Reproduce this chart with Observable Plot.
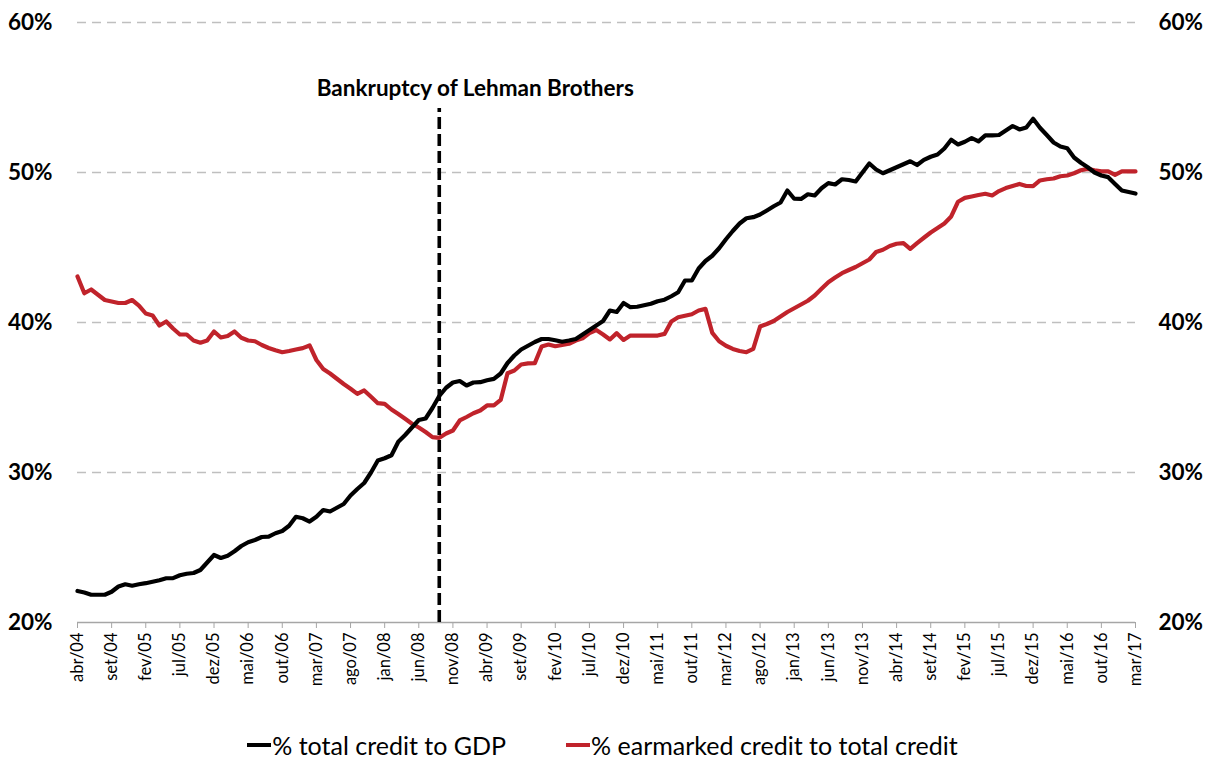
<!DOCTYPE html>
<html><head><meta charset="utf-8">
<script src="https://cdn.jsdelivr.net/npm/d3@7"></script>
<script src="https://cdn.jsdelivr.net/npm/@observablehq/plot@0.6"></script>
<style>
body{margin:0;background:#fff;font-family:Lato,"Open Sans",sans-serif;}
#chart svg{display:block;}
#legend{height:50px;display:flex;justify-content:center;align-items:center;gap:60px;font-size:25px;color:#000;}
#legend .item{display:flex;align-items:center;}
#legend .sw{display:inline-block;width:24px;height:4.5px;margin-right:1px;}
</style></head><body>
<div id="chart"></div>
<div id="legend"></div>
<script>
// Monthly series, abr/04 .. mar/17 (156 months)
const tickLabels = ["abr/04","set/04","fev/05","jul/05","dez/05","mai/06","out/06","mar/07","ago/07","jan/08","jun/08","nov/08","abr/09","set/09","fev/10","jul/10","dez/10","mai/11","out/11","mar/12","ago/12","jan/13","jun/13","nov/13","abr/14","set/14","fev/15","jul/15","dez/15","mai/16","out/16","mar/17"];
const seriesNames = ["% total credit to GDP","% earmarked credit to total credit"];
const seriesColors = ["#000000","#c0232b"];
const totalCreditToGDP = [
22.1,22.0,21.85,21.85,21.85,22.05,22.4,22.55,22.45,22.55,
22.62,22.72,22.82,22.95,22.96,23.15,23.25,23.3,23.5,24.0,
24.5,24.3,24.45,24.75,25.1,25.35,25.5,25.7,25.72,25.95,
26.1,26.45,27.05,26.95,26.73,27.05,27.5,27.4,27.65,27.9,
28.47,28.9,29.3,30.0,30.8,30.95,31.15,32.05,32.5,33.0,
33.5,33.6,34.3,35.1,35.65,36.0,36.1,35.8,36.0,36.02,
36.15,36.24,36.6,37.3,37.8,38.2,38.45,38.7,38.9,38.9,
38.82,38.72,38.8,38.9,39.2,39.5,39.8,40.1,40.8,40.7,
41.3,41.02,41.05,41.15,41.25,41.42,41.52,41.75,42.02,42.8,
42.8,43.6,44.1,44.45,44.95,45.55,46.1,46.6,46.95,47.02,
47.2,47.47,47.75,48.0,48.8,48.25,48.24,48.55,48.47,48.95,
49.29,49.2,49.55,49.5,49.4,50.0,50.6,50.2,49.95,50.15,
50.35,50.55,50.75,50.5,50.84,51.05,51.2,51.6,52.18,51.87,
52.05,52.3,52.07,52.47,52.47,52.5,52.8,53.1,52.87,53.0,
53.58,52.98,52.5,52.0,51.73,51.62,51.0,50.65,50.35,50.0,
49.8,49.69,49.24,48.8,48.7,48.6];
const earmarkedToTotal = [
43.07,41.95,42.2,41.85,41.5,41.4,41.3,41.3,41.5,41.13,
40.6,40.47,39.8,40.07,39.6,39.2,39.2,38.8,38.65,38.8,
39.4,39.0,39.1,39.4,38.98,38.8,38.75,38.5,38.3,38.15,
38.02,38.1,38.2,38.29,38.47,37.5,36.9,36.6,36.25,35.9,
35.58,35.24,35.47,35.05,34.62,34.58,34.2,33.9,33.58,33.25,
33.0,32.7,32.36,32.31,32.6,32.8,33.47,33.7,33.95,34.13,
34.47,34.47,34.84,36.62,36.8,37.2,37.27,37.29,38.4,38.53,
38.42,38.5,38.58,38.8,38.95,39.3,39.5,39.2,38.87,39.29,
38.84,39.13,39.13,39.13,39.13,39.13,39.24,40.07,40.35,40.45,
40.55,40.8,40.91,39.31,38.75,38.45,38.24,38.1,38.02,38.24,
39.73,39.9,40.1,40.4,40.7,40.95,41.2,41.45,41.8,42.25,
42.69,43.0,43.29,43.5,43.7,43.95,44.2,44.7,44.85,45.1,
45.25,45.29,44.91,45.29,45.65,46.0,46.3,46.6,47.07,48.05,
48.31,48.4,48.5,48.58,48.47,48.76,48.96,49.1,49.24,49.1,
49.09,49.47,49.55,49.6,49.75,49.8,49.95,50.15,50.24,50.15,
50.08,50.07,49.84,50.07,50.07,50.07];
const yTicks = [20,30,40,50,60];
const eventLabel = "Bankruptcy of Lehman Brothers";
const eventMonthIndex = 53; // set/08
const eventTop = 54.27;
const eventLabelY = 55.6;

const tickStep = 5;
const xTicks = tickLabels.map((_, i) => i * tickStep);

const chart = Plot.plot({
  width: 1205, height: 720,
  marginTop: 22, marginBottom: 98, marginLeft: 77, marginRight: 70,
  x: {domain: [0, totalCreditToGDP.length - 1]},
  y: {domain: [20, 60]},
  style: {fontFamily: "Lato, 'Open Sans', sans-serif", background: "white", color: "#000"},
  marks: [
    Plot.gridY(yTicks.filter(d => d > 20), {stroke: "#bfbfbf", strokeOpacity: 1, strokeWidth: 1.4, strokeDasharray: "9,6"}),
    Plot.ruleY([20], {stroke: "#a6a6a6", strokeWidth: 1.5}),
    Plot.axisX({ticks: xTicks, tickFormat: d => tickLabels[d / tickStep], tickRotate: -90, tickSize: 6, tickPadding: 4, stroke: "#a6a6a6", fontSize: 16.5, fill: "#000", label: null}),
    Plot.axisY({anchor: "left", ticks: yTicks, tickFormat: d => d + "%", tickSize: 0, tickPadding: 25, fontSize: 22.5, fontWeight: "bold", label: null}),
    Plot.axisY({anchor: "right", ticks: yTicks, tickFormat: d => d + "%", tickSize: 0, tickPadding: 23, fontSize: 22.5, fontWeight: "bold", label: null}),
    Plot.lineY(earmarkedToTotal, {x: (d, i) => i, y: d => d, stroke: seriesColors[1], strokeWidth: 4.2, curve: "linear"}),
    Plot.lineY(totalCreditToGDP, {x: (d, i) => i, y: d => d, stroke: seriesColors[0], strokeWidth: 4.2, curve: "linear"}),
    Plot.ruleX([eventMonthIndex], {y1: 20, y2: eventTop, stroke: "#000", strokeWidth: 3.6, strokeDasharray: "12,5"}),
    Plot.text([eventLabel], {x: eventMonthIndex, y: eventLabelY, text: d => d, dx: 36, fontSize: 22.5, fontWeight: "bold", fill: "#000"})
  ]
});
document.getElementById("chart").appendChild(chart);

const legend = document.getElementById("legend");
seriesNames.forEach((name, i) => {
  const item = document.createElement("span");
  item.className = "item";
  const sw = document.createElement("span");
  sw.className = "sw";
  sw.style.background = seriesColors[i];
  item.appendChild(sw);
  item.appendChild(document.createTextNode(name));
  legend.appendChild(item);
});
</script>
</body></html>
